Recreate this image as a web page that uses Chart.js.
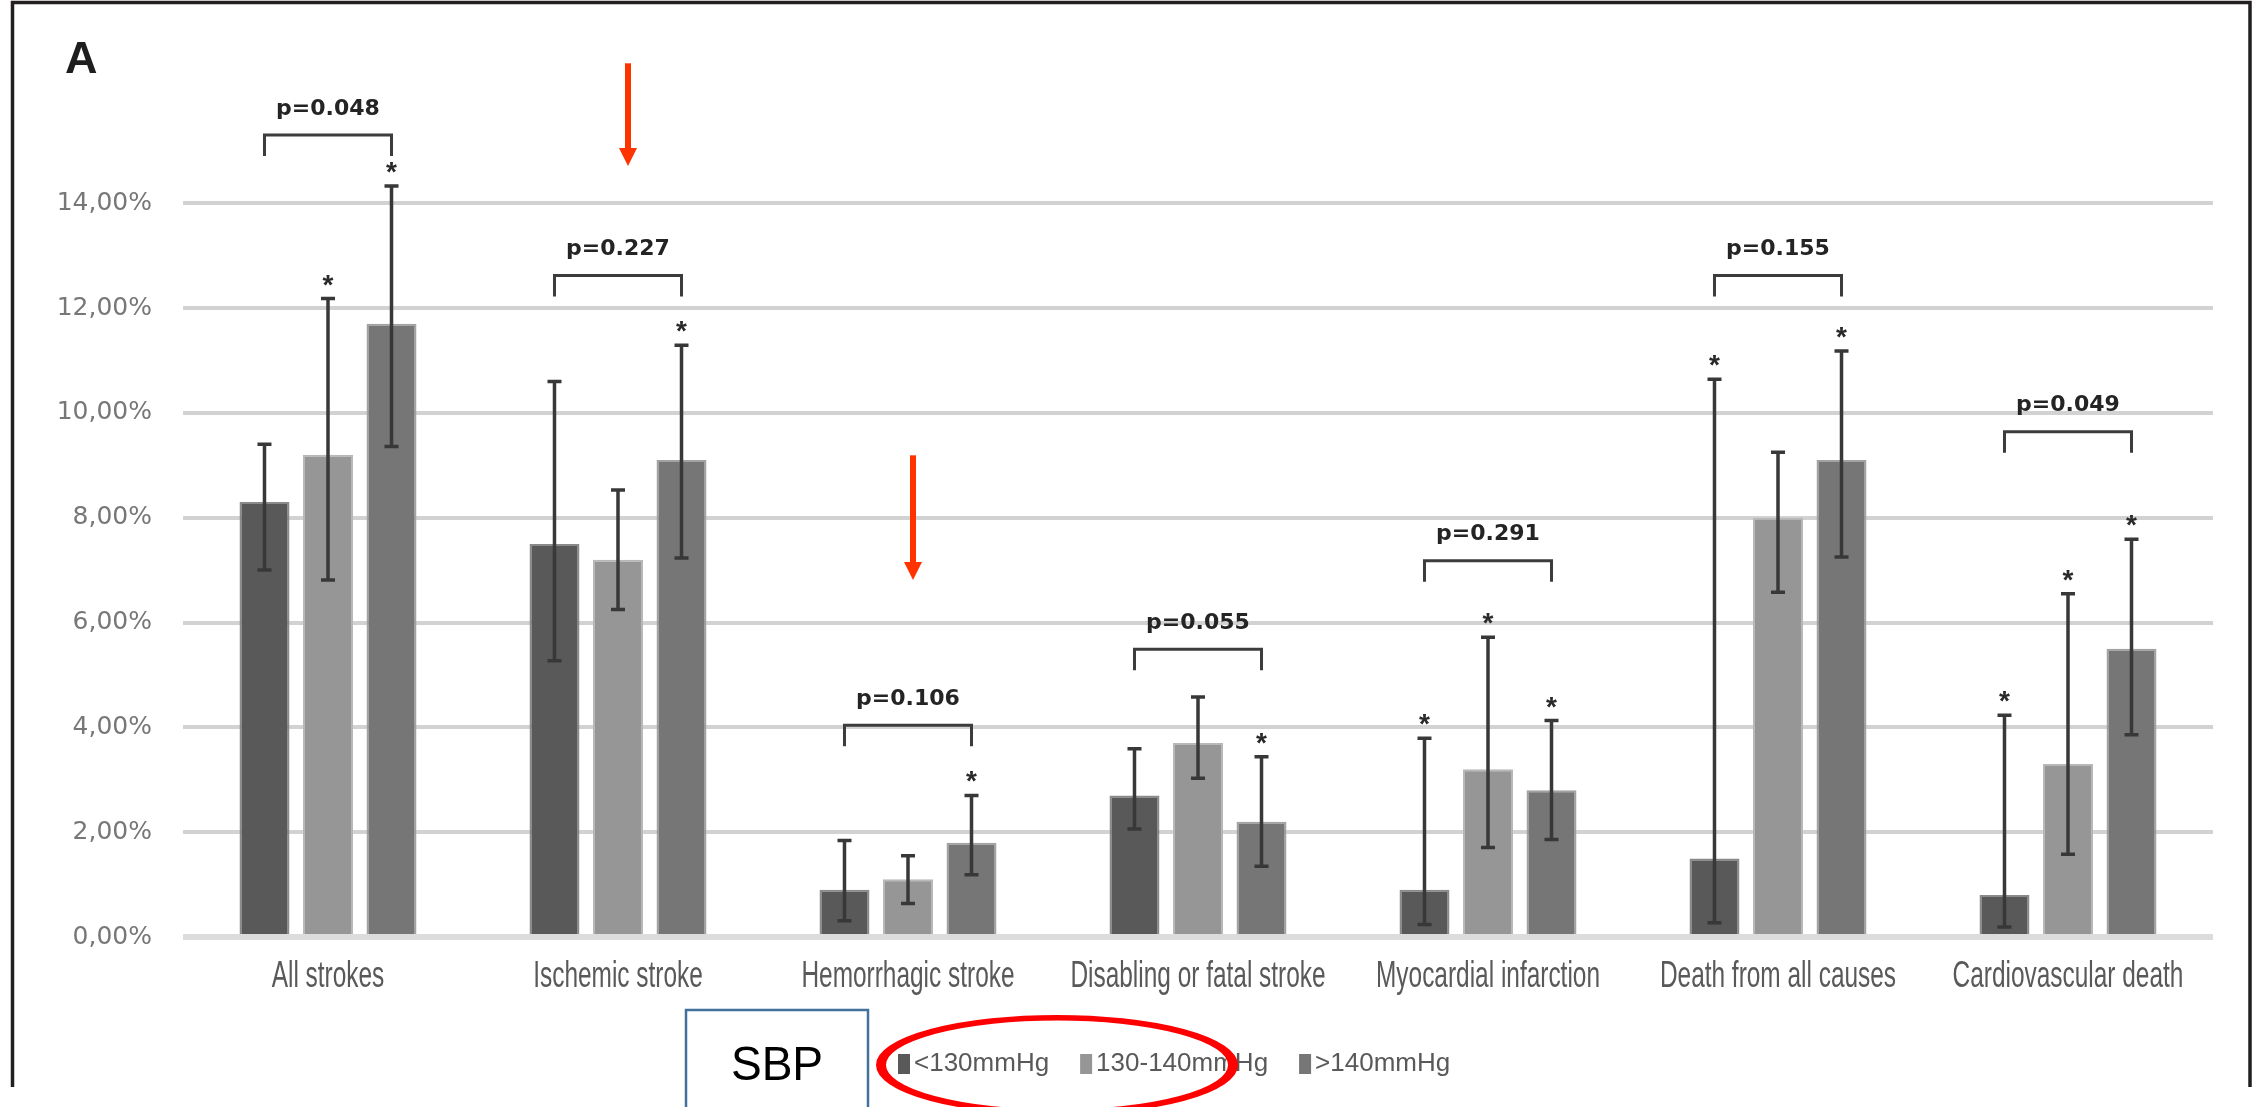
<!DOCTYPE html>
<html>
<head>
<meta charset="utf-8">
<title>Event rates by systolic blood pressure</title>
<script src="https://cdn.jsdelivr.net/npm/chart.js@4.4.1/dist/chart.umd.min.js"></script>
<style>
  html, body { margin: 0; padding: 0; background: #ffffff; overflow: hidden; }
  #wrap { position: relative; width: 2260px; height: 1107px; }
</style>
</head>
<body>
<div id="wrap"><canvas id="chart" width="2260" height="1107"></canvas></div>
<script>
// ---- data -------------------------------------------------------------
const categories = [
  'All strokes', 'Ischemic stroke', 'Hemorrhagic stroke',
  'Disabling or fatal stroke', 'Myocardial infarction',
  'Death from all causes', 'Cardiovascular death'
];
const seriesLabels = ['<130mmHg', '130-140mmHg', '>140mmHg'];

// event rates (%)
const sbpLow  = [8.3, 7.5, 0.9, 2.7, 0.9, 1.5, 0.8];
const sbpMid  = [9.2, 7.2, 1.1, 3.7, 3.2, 8.0, 3.3];
const sbpHigh = [11.7, 9.1, 1.8, 2.2, 2.8, 9.1, 5.5];

// confidence interval bounds (%)
const lowCiLower  = [7.0, 5.27, 0.31, 2.06, 0.24, 0.27, 0.19];
const lowCiUpper  = [9.4, 10.6, 1.84, 3.59, 3.79, 10.64, 4.23];
const midCiLower  = [6.81, 6.25, 0.64, 3.03, 1.71, 6.58, 1.58];
const midCiUpper  = [12.18, 8.53, 1.55, 4.58, 5.72, 9.25, 6.55];
const highCiLower = [9.36, 7.23, 1.19, 1.35, 1.86, 7.25, 3.86];
const highCiUpper = [14.33, 11.29, 2.70, 3.44, 4.13, 11.18, 7.59];

// significance stars per series (1 = marked)
const lowStar  = [0, 0, 0, 0, 1, 1, 1];
const midStar  = [1, 0, 0, 0, 1, 0, 1];
const highStar = [1, 1, 1, 1, 1, 1, 1];

// trend p-values and the level (%) of each comparison bracket
const pLabels = ['p=0.048', 'p=0.227', 'p=0.106', 'p=0.055', 'p=0.291', 'p=0.155', 'p=0.049'];
const bracketLevel = [15.3, 12.62, 4.04, 5.49, 7.18, 12.62, 9.64];

// y-axis tick values (%)
const yTicks = [0, 2, 4, 6, 8, 10, 12, 14];

// ---- helpers ------------------------------------------------------------
const ciLower = [lowCiLower, midCiLower, highCiLower];
const ciUpper = [lowCiUpper, midCiUpper, highCiUpper];
const stars = [lowStar, midStar, highStar];
const barColors = ['#595959', '#969696', '#767676'];
const barEdges  = ['#8a8a8a', '#b8b8b8', '#a2a2a2'];

// error bars, stars, p-value brackets and category labels
const annotate = {
  id: 'annotate',
  afterDatasetsDraw(chart) {
    const ctx = chart.ctx;
    const y = chart.scales.y;
    const x = chart.scales.x;
    ctx.save();

    // error bars and stars
    chart.data.datasets.forEach((ds, i) => {
      const meta = chart.getDatasetMeta(i);
      meta.data.forEach((bar, j) => {
        const cx = bar.x;
        const top = y.getPixelForValue(ciUpper[i][j]);
        const bot = y.getPixelForValue(ciLower[i][j]);
        ctx.strokeStyle = '#383838';
        ctx.lineWidth = 3.5;
        ctx.beginPath();
        ctx.moveTo(cx, top); ctx.lineTo(cx, bot);
        ctx.moveTo(cx - 7, top); ctx.lineTo(cx + 7, top);
        ctx.moveTo(cx - 7, bot); ctx.lineTo(cx + 7, bot);
        ctx.stroke();
        if (stars[i][j]) {
          ctx.fillStyle = '#2a2a2a';
          ctx.font = 'bold 28px "Liberation Sans", Arial, sans-serif';
          ctx.textAlign = 'center';
          ctx.textBaseline = 'alphabetic';
          ctx.fillText('*', cx, top - 5);
        }
      });
    });

    // brackets with p-values
    const first = chart.getDatasetMeta(0);
    const last = chart.getDatasetMeta(2);
    pLabels.forEach((txt, j) => {
      const xl = first.data[j].x;
      const xr = last.data[j].x;
      const yb = y.getPixelForValue(bracketLevel[j]);
      ctx.strokeStyle = '#3c3c3c';
      ctx.lineWidth = 3;
      ctx.beginPath();
      ctx.moveTo(xl, yb + 21); ctx.lineTo(xl, yb);
      ctx.lineTo(xr, yb); ctx.lineTo(xr, yb + 21);
      ctx.stroke();
      ctx.fillStyle = '#242424';
      ctx.font = 'bold 22px "DejaVu Sans", sans-serif';
      ctx.textAlign = 'center';
      ctx.textBaseline = 'middle';
      ctx.fillText(txt, (xl + xr) / 2, yb - 26);
    });

    // condensed category labels under the axis
    ctx.fillStyle = '#595959';
    ctx.font = '37px "Liberation Sans", Arial, sans-serif';
    ctx.textAlign = 'center';
    ctx.textBaseline = 'alphabetic';
    chart.data.labels.forEach((lab, j) => {
      ctx.save();
      ctx.translate(x.getPixelForValue(j), chart.chartArea.bottom + 50);
      ctx.scale(0.66, 1);
      ctx.fillText(lab, 0, 0);
      ctx.restore();
    });
    ctx.restore();
  }
};

// panel frame, panel letter, arrows, legend and highlight ring
const panel = {
  id: 'panel',
  afterDraw(chart) {
    const ctx = chart.ctx;
    const y = chart.scales.y;
    const x = chart.scales.x;
    ctx.save();

    // frame (open at the bottom)
    ctx.strokeStyle = '#231f20';
    ctx.lineWidth = 3.5;
    ctx.beginPath();
    ctx.moveTo(12.5, 1087); ctx.lineTo(12.5, 2.5);
    ctx.lineTo(2250, 2.5); ctx.lineTo(2250, 1087);
    ctx.stroke();

    // panel letter
    ctx.fillStyle = '#1e1e1e';
    ctx.font = 'bold 45px "Liberation Sans", Arial, sans-serif';
    ctx.textAlign = 'left';
    ctx.textBaseline = 'alphabetic';
    ctx.fillText('A', 65, 73);

    // red arrows pointing at the stroke subtypes
    const arrows = [
      { cat: 1, dx: 10, from: 16.67, to: 14.71 },
      { cat: 2, dx: 5, from: 9.19, to: 6.81 }
    ];
    ctx.fillStyle = '#ff3300';
    arrows.forEach(a => {
      const ax = x.getPixelForValue(a.cat) + a.dx;
      const y0 = y.getPixelForValue(a.from);
      const y1 = y.getPixelForValue(a.to);
      const head = 18;
      ctx.fillRect(ax - 3, y0, 6, y1 - y0 - head + 1);
      ctx.beginPath();
      ctx.moveTo(ax - 9, y1 - head);
      ctx.lineTo(ax + 9, y1 - head);
      ctx.lineTo(ax, y1);
      ctx.closePath();
      ctx.fill();
    });

    // "SBP" box
    ctx.strokeStyle = '#41719c';
    ctx.lineWidth = 2.5;
    ctx.strokeRect(686, 1010, 182, 130);
    ctx.fillStyle = '#000000';
    ctx.font = '49px "Liberation Sans", Arial, sans-serif';
    ctx.textAlign = 'center';
    ctx.textBaseline = 'alphabetic';
    ctx.save();
    ctx.translate(777, 1080);
    ctx.scale(0.94, 1);
    ctx.fillText('SBP', 0, 0);
    ctx.restore();

    // legend built from the datasets
    ctx.font = '26px "Liberation Sans", Arial, sans-serif';
    ctx.textAlign = 'left';
    ctx.textBaseline = 'middle';
    let lx = 898;
    const ly = 1064;
    chart.data.datasets.forEach(ds => {
      ctx.fillStyle = ds.backgroundColor;
      ctx.fillRect(lx, ly - 10, 12, 20);
      ctx.fillStyle = '#595959';
      ctx.fillText(ds.label, lx + 16, ly);
      lx += 16 + ctx.measureText(ds.label).width + 31;
    });

    // red ring round the first two legend entries
    ctx.save();
    ctx.translate(1057, 1065);
    ctx.scale(1, 0.55);
    ctx.strokeStyle = '#ff0000';
    ctx.lineWidth = 10;
    ctx.beginPath();
    ctx.ellipse(0, 0, 176, 86, 0, 0, Math.PI * 2);
    ctx.stroke();
    ctx.restore();

    ctx.restore();
  }
};

new Chart(document.getElementById('chart'), {
  type: 'bar',
  data: {
    labels: categories,
    datasets: [sbpLow, sbpMid, sbpHigh].map((vals, i) => ({
      label: seriesLabels[i],
      data: vals,
      backgroundColor: barColors[i],
      borderColor: barEdges[i],
      borderWidth: 2,
      borderSkipped: 'bottom',
      barPercentage: 0.787,
      categoryPercentage: 0.657
    }))
  },
  options: {
    responsive: false,
    devicePixelRatio: 1,
    animation: false,
    layout: { padding: { top: 44, right: 47, bottom: 150, left: 0 } },
    plugins: { legend: { display: false }, tooltip: { enabled: false } },
    scales: {
      x: {
        offset: true,
        ticks: { display: false },
        grid: { display: false },
        border: { display: false },
        afterFit(s) { s.height = 20; }
      },
      y: {
        min: 0,
        max: 17,
        afterBuildTicks(s) { s.ticks = yTicks.map(v => ({ value: v })); },
        afterFit(s) { s.width = 183; },
        ticks: {
          padding: 31,
          color: '#777777',
          font: { family: '"DejaVu Sans", sans-serif', size: 25 },
          callback: v => v.toFixed(2).replace('.', ',') + '%'
        },
        grid: {
          drawTicks: false,
          color: c => (c.tick && c.tick.value === 0) ? '#dcdcdc' : '#d2d2d2',
          lineWidth: c => (c.tick && c.tick.value === 0) ? 6 : 4
        },
        border: { display: false }
      }
    }
  },
  plugins: [annotate, panel]
});
</script>
</body>
</html>
